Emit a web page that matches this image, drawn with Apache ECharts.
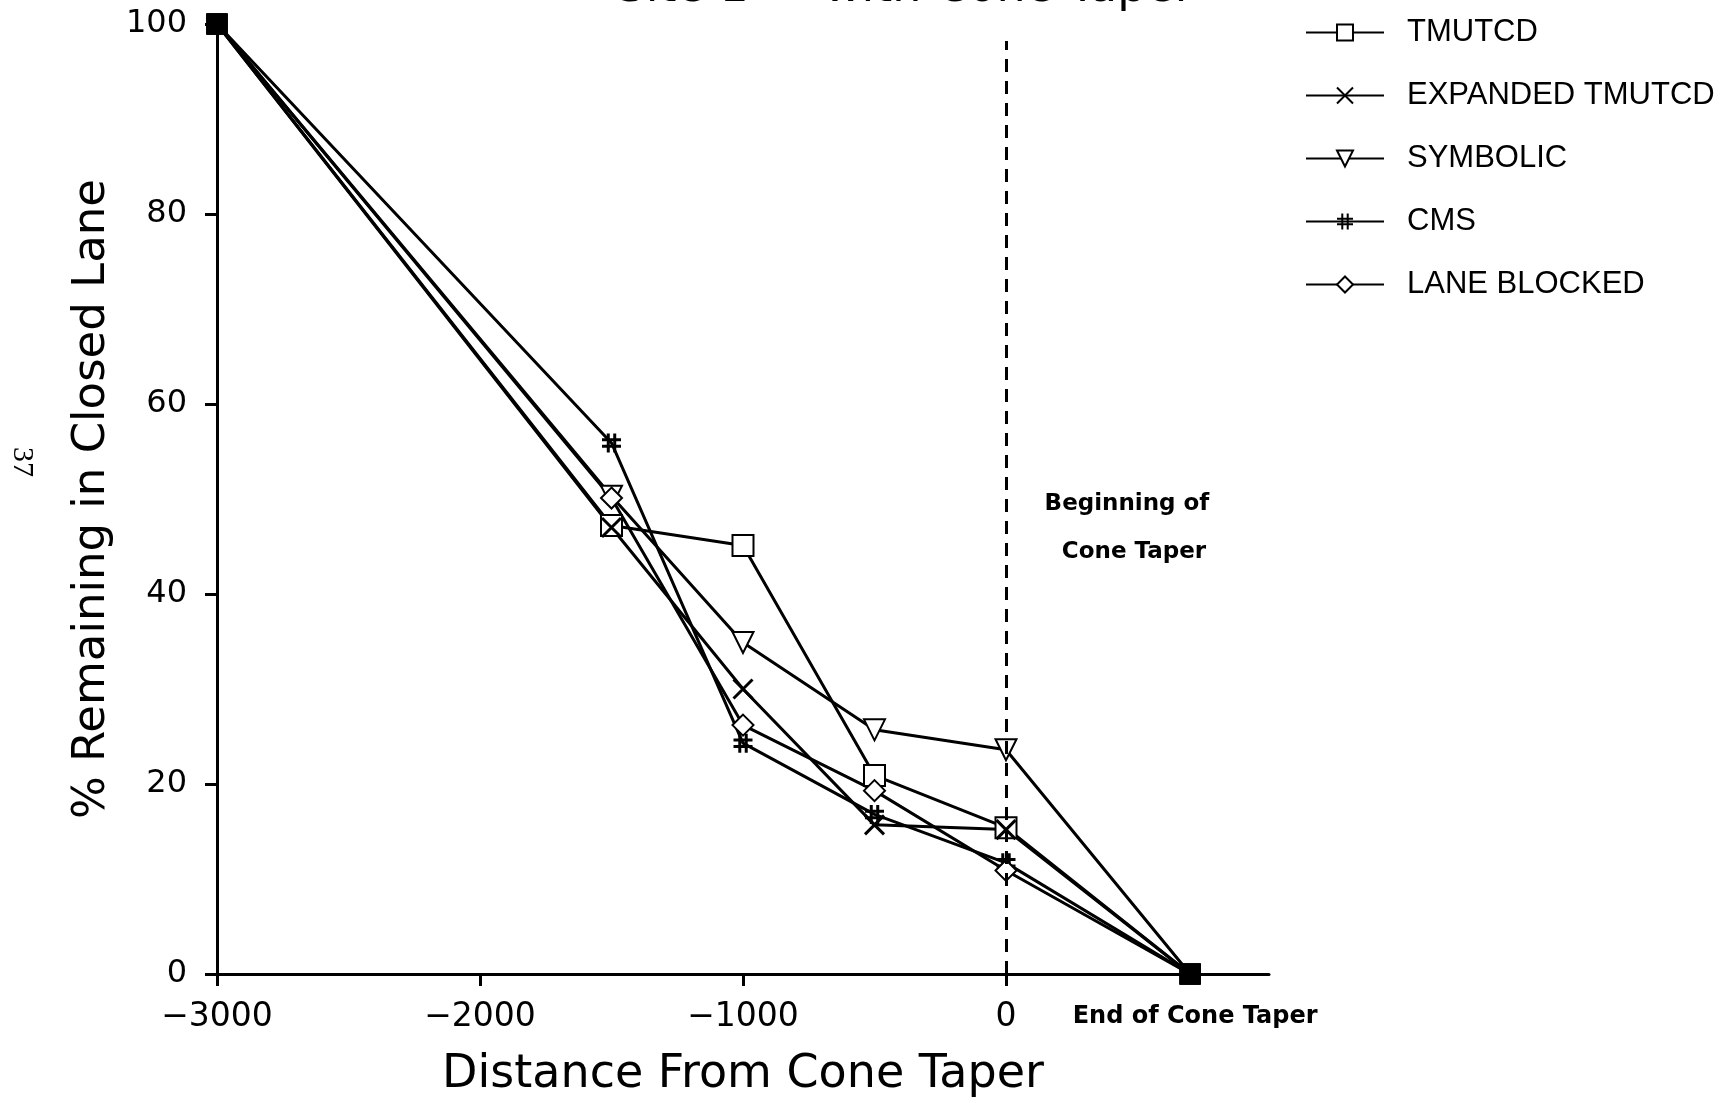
<!DOCTYPE html>
<html>
<head>
<meta charset="utf-8">
<script src="https://cdn.jsdelivr.net/npm/echarts@6/dist/echarts.min.js"></script>
<style>
html,body{margin:0;padding:0;background:#fff;}
#chart{width:1732px;height:1103px;}
</style>
</head>
<body>
<div id="chart"></div>
<script>
// ---- data ----
const distances = [-3000, -1500, -1000, -500, 0, 700];
const seriesNames = ['TMUTCD', 'EXPANDED TMUTCD', 'SYMBOLIC', 'CMS', 'LANE BLOCKED'];
const tmutcd      = [100, 47.2, 45.1, 20.9, 15.4, 0];
const expanded    = [100, 47.0, 30.0, 15.7, 15.2, 0];
const symbolic    = [100, 50.3, 34.9, 25.7, 23.6, 0];
const cms         = [100, 55.9, 24.3, 16.8, 11.7, 0];
const laneBlocked = [100, 50.1, 26.2, 19.3, 10.9, 0];
const xTickValues = [-3000, -2000, -1000, 0];
const xTickLabels = ['\u22123000', '\u22122000', '\u22121000', '0'];
const endOfTaper = 700;
const endOfTaperLabel = 'End of Cone Taper';
const yTickValues = [0, 20, 40, 60, 80, 100];
const taperStartLineTop = 98.2;
const titleText = 'Site 1 \u2014 with Cone Taper';
const xAxisTitle = 'Distance From Cone Taper';
const yAxisTitle = '% Remaining in Closed Lane';
const annotationLines = ['Beginning of', 'Cone Taper'];
const pageNumber = '37';

// ---- styles ----
const symbols = [
  'emptyRect',
  'path://M0,0L10,10M0,10L10,0',
  'emptyTriangle',
  'path://M3.3,0L3.3,10M6.7,0L6.7,10M0,3.3L10,3.3M0,6.7L10,6.7',
  'emptyDiamond'
];
const symbolSizes = [21, 19, 21, 19, 21];
const rotations = [0, 0, 180, 0, 0];
const valueSets = [tmutcd, expanded, symbolic, cms, laneBlocked];

const series = valueSets.map((vals, i) => {
  const s = {
    name: seriesNames[i],
    type: 'line',
    symbol: symbols[i],
    symbolSize: symbolSizes[i],
    symbolRotate: rotations[i],
    symbolKeepAspect: true,
    lineStyle: { color: '#000', width: 3 },
    itemStyle: { color: '#000', borderColor: '#000', borderWidth: 3 },
    emphasis: { disabled: true },
    animation: false,
    z: 3,
    data: vals.map((v, k) => {
      const last = k === vals.length - 1;
      if (k === 0 || last) {
        return { value: [distances[k], v], symbol: 'rect', symbolSize: 18, symbolRotate: 0,
                 itemStyle: { color: '#000' } };
      }
      return { value: [distances[k], v] };
    })
  };
  if (i === 0) {
    s.markLine = {
      silent: true,
      symbol: 'none',
      animation: false,
      label: { show: false },
      lineStyle: { color: '#000', width: 3, type: [13, 9] },
      data: [[{ coord: [0, 0] }, { coord: [0, taperStartLineTop] }]]
    };
  }
  return s;
});

const chart = echarts.init(document.getElementById('chart'), null, { renderer: 'canvas' });
const FONT = 'DejaVu Sans';

chart.setOption({
  backgroundColor: '#fff',
  animation: false,
  grid: { left: 217, right: 463, top: 24, bottom: 120, containLabel: false },
  legend: {
    orient: 'vertical',
    left: 1300,
    top: 12,
    itemWidth: 78,
    itemHeight: 20,
    itemGap: 32,
    selectedMode: false,
    data: seriesNames,
    textStyle: { fontFamily: 'Liberation Sans', fontSize: 31, color: '#000', padding: [0, 0, 0, 18] }
  },
  xAxis: {
    type: 'value',
    min: -3000,
    max: 1000,
    interval: 1000,
    splitLine: { show: false },
    axisLine: { show: true, onZero: false, lineStyle: { color: '#000', width: 3 } },
    axisTick: { show: true, length: 12, customValues: xTickValues, lineStyle: { color: '#000', width: 3 } },
    axisLabel: {
      customValues: xTickValues.concat([endOfTaper]),
      margin: 27,
      color: '#000',
      fontFamily: FONT,
      fontSize: 33,
      formatter: function (v) {
        if (v === endOfTaper) return '{end|' + endOfTaperLabel + '}';
        const idx = xTickValues.indexOf(v);
        return idx >= 0 ? xTickLabels[idx] : '';
      },
      rich: { end: { fontFamily: FONT, fontWeight: 'bold', fontSize: 24, color: '#000', padding: [4, 0, 0, 10] } }
    },
    name: xAxisTitle,
    nameLocation: 'middle',
    nameGap: 78,
    nameTextStyle: { fontFamily: FONT, fontSize: 46, color: '#000' }
  },
  yAxis: {
    type: 'value',
    min: 0,
    max: 100,
    interval: 20,
    splitLine: { show: false },
    axisLine: { show: true, onZero: false, lineStyle: { color: '#000', width: 3 } },
    axisTick: { show: true, length: 12, lineStyle: { color: '#000', width: 3 } },
    axisLabel: {
      margin: 30,
      color: '#000',
      fontFamily: FONT,
      fontSize: 32,
      formatter: function (v) { return yTickValues.indexOf(v) >= 0 ? String(v) : ''; }
    },
    name: yAxisTitle,
    nameLocation: 'middle',
    nameGap: 88,
    nameTextStyle: { fontFamily: FONT, fontSize: 45, color: '#000' }
  },
  series: series
});

// annotations anchored on the data scale
const p0 = chart.convertToPixel({ gridIndex: 0 }, [0, 50]);
chart.setOption({
  graphic: [
    { type: 'text', x: 905, y: 12, silent: true,
      style: { text: titleText, font: '46px "DejaVu Sans"', fill: '#000', textAlign: 'center', textVerticalAlign: 'bottom' } },
    { type: 'text', x: p0[0] + 121, y: 504, silent: true,
      style: { text: annotationLines[0], font: 'bold 23px "DejaVu Sans"', fill: '#000', textAlign: 'center', textVerticalAlign: 'middle' } },
    { type: 'text', x: p0[0] + 128, y: 552, silent: true,
      style: { text: annotationLines[1], font: 'bold 23px "DejaVu Sans"', fill: '#000', textAlign: 'center', textVerticalAlign: 'middle' } },
    { type: 'text', x: 22, y: 462, rotation: -Math.PI / 2, silent: true,
      style: { text: pageNumber, font: '30px "Liberation Serif"', fill: '#000', textAlign: 'center', textVerticalAlign: 'middle' } }
  ]
});
</script>
</body>
</html>
